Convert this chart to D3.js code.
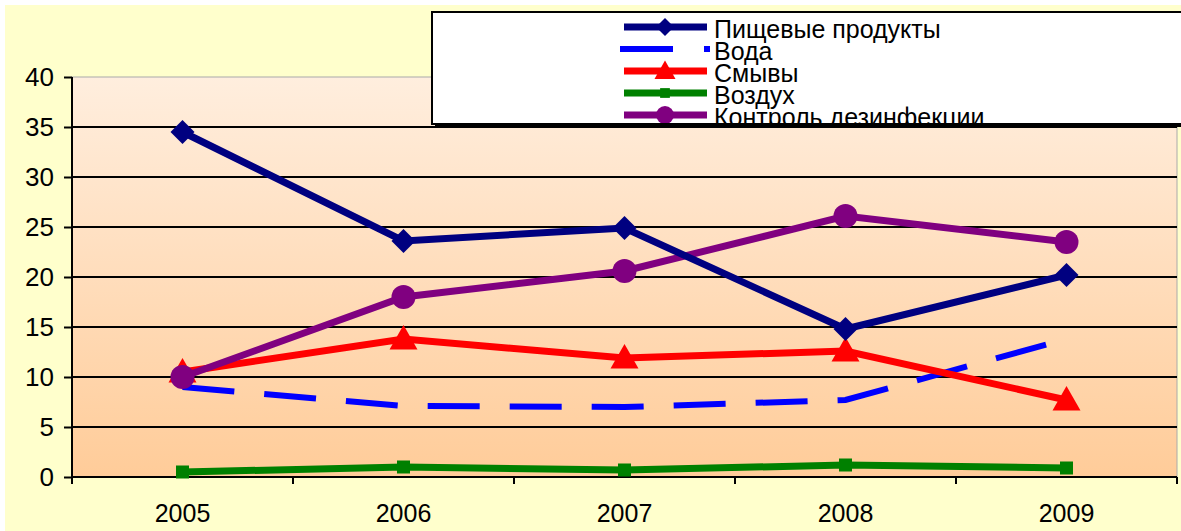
<!DOCTYPE html>
<html>
<head>
<meta charset="utf-8">
<script src="https://cdn.jsdelivr.net/npm/d3@7"></script>
<style>
  body { margin: 0; background: #fff; }
  svg { display: block; font-family: "Liberation Sans", Arial, sans-serif; }
</style>
</head>
<body>
<svg id="chart" width="1181" height="531"></svg>
<script>
const YEARS = ["2005", "2006", "2007", "2008", "2009"];
const Y_TICKS = [0, 5, 10, 15, 20, 25, 30, 35, 40];

const FOOD = [34.5, 23.6, 24.9, 14.8, 20.2];
const WATER = [9.0, 7.1, 7.0, 7.7, 13.8];
const SWABS = [10.5, 13.8, 11.9, 12.6, 7.7];
const AIR = [0.5, 1.0, 0.7, 1.2, 0.9];
const DISINF = [10.0, 18.0, 20.6, 26.1, 23.5];

const SERIES_NAMES = [
  "Пищевые продукты",
  "Вода",
  "Смывы",
  "Воздух",
  "Контроль дезинфекции",
];

const series = [
  { name: SERIES_NAMES[0], values: FOOD, color: "#000080", marker: "diamond" },
  { name: SERIES_NAMES[1], values: WATER, color: "#0000FF", marker: "none", dash: true },
  { name: SERIES_NAMES[2], values: SWABS, color: "#FF0000", marker: "triangle" },
  { name: SERIES_NAMES[3], values: AIR, color: "#008000", marker: "square" },
  { name: SERIES_NAMES[4], values: DISINF, color: "#800080", marker: "circle" },
];

const PLOT = { left: 72, right: 1177, top: 77, bottom: 477 };

const svg = d3.select("#chart");

// chart background
svg
  .append("rect")
  .attr("x", 5)
  .attr("y", 5)
  .attr("width", 1176)
  .attr("height", 526)
  .attr("fill", "#FFFFCC");

const defs = svg.append("defs");
const grad = defs
  .append("linearGradient")
  .attr("id", "plotGrad")
  .attr("x1", 0)
  .attr("y1", 0)
  .attr("x2", 0)
  .attr("y2", 1);
grad.append("stop").attr("offset", "0%").attr("stop-color", "#FFEEDE");
grad.append("stop").attr("offset", "100%").attr("stop-color", "#FFCC99");

const x = d3
  .scaleBand()
  .domain(YEARS)
  .range([PLOT.left, PLOT.right]);

const y = d3.scaleLinear().domain([0, 40]).range([PLOT.bottom, PLOT.top]);

svg
  .append("rect")
  .attr("x", PLOT.left)
  .attr("y", PLOT.top)
  .attr("width", PLOT.right - PLOT.left)
  .attr("height", PLOT.bottom - PLOT.top)
  .attr("fill", "url(#plotGrad)")
  .attr("stroke", "#aaa")
  .attr("stroke-width", 1);

// gridlines
svg
  .append("g")
  .selectAll("line")
  .data(Y_TICKS.filter((t) => t > 0 && t < 40))
  .join("line")
  .attr("x1", PLOT.left)
  .attr("x2", PLOT.right)
  .attr("y1", (d) => y(d))
  .attr("y2", (d) => y(d))
  .attr("stroke", "#000")
  .attr("stroke-width", 2);

// y axis
const yAxis = svg
  .append("g")
  .attr("transform", `translate(${PLOT.left},0)`)
  .call(d3.axisLeft(y).tickValues(Y_TICKS).tickSize(8).tickPadding(10));
yAxis.selectAll("path, line").attr("stroke", "#000").attr("stroke-width", 2);
yAxis.select(".domain").attr("d", `M0,${PLOT.top}V${PLOT.bottom}`);
yAxis
  .selectAll("text")
  .attr("font-size", 26)
  .attr("font-family", "Liberation Sans, Arial, sans-serif")
  .attr("fill", "#000");

// x axis: ticks between categories
const xAxis = svg
  .append("g")
  .attr("transform", `translate(0,${PLOT.bottom})`);
xAxis
  .append("line")
  .attr("x1", PLOT.left)
  .attr("x2", PLOT.right)
  .attr("stroke", "#000")
  .attr("stroke-width", 2);
const boundaries = YEARS.map((d) => x(d)).concat([PLOT.right]);
xAxis
  .selectAll(".xt")
  .data(boundaries)
  .join("line")
  .attr("class", "xt")
  .attr("x1", (d) => d)
  .attr("x2", (d) => d)
  .attr("y1", 0)
  .attr("y2", 7)
  .attr("stroke", "#000")
  .attr("stroke-width", 2);
xAxis
  .selectAll(".xl")
  .data(YEARS)
  .join("text")
  .attr("class", "xl")
  .attr("x", (d) => x(d) + x.bandwidth() / 2)
  .attr("y", 45)
  .attr("text-anchor", "middle")
  .attr("font-size", 25)
  .text((d) => d);

const cx = (i) => x(YEARS[i]) + x.bandwidth() / 2;

function drawMarker(g, type, color, px, py, scale = 1) {
  if (type === "diamond") {
    const r = 12 * scale;
    g.append("path")
      .attr("d", `M${px},${py - r}L${px + r},${py}L${px},${py + r}L${px - r},${py}Z`)
      .attr("fill", color);
  } else if (type === "triangle") {
    const r = 14 * scale;
    g.append("path")
      .attr("d", `M${px},${py - r}L${px + r},${py + r * 0.75}L${px - r},${py + r * 0.75}Z`)
      .attr("fill", color);
  } else if (type === "square") {
    const s = 13 * scale;
    g.append("rect")
      .attr("x", px - s / 2)
      .attr("y", py - s / 2)
      .attr("width", s)
      .attr("height", s)
      .attr("fill", color);
  } else if (type === "circle") {
    g.append("circle")
      .attr("cx", px)
      .attr("cy", py)
      .attr("r", 12 * scale)
      .attr("fill", color);
  }
}

const line = d3
  .line()
  .x((d, i) => cx(i))
  .y((d) => y(d));

const linesG = svg.append("g");
// draw order: water first, then others
const order = [1, 3, 2, 4, 0];
order.forEach((k) => {
  const s = series[k];
  const g = linesG.append("g");
  g.append("path")
    .attr("d", line(s.values))
    .attr("fill", "none")
    .attr("stroke", s.color)
    .attr("stroke-width", s.dash ? 6 : 7)
    .attr("stroke-dasharray", s.dash ? "52 30" : null)
    .attr("stroke-linejoin", "miter");
  s.values.forEach((v, i) => drawMarker(g, s.marker, s.color, cx(i), y(v)));
});

// legend
const LEG = { x: 432, y: 12, w: 760, h: 112 };
const legend = svg.append("g");
legend
  .append("rect")
  .attr("x", LEG.x + 3)
  .attr("y", LEG.y + 3)
  .attr("width", LEG.w)
  .attr("height", LEG.h)
  .attr("fill", "#000");
legend
  .append("rect")
  .attr("x", LEG.x)
  .attr("y", LEG.y)
  .attr("width", LEG.w)
  .attr("height", LEG.h)
  .attr("fill", "#fff")
  .attr("stroke", "#000")
  .attr("stroke-width", 2);

defs
  .append("clipPath")
  .attr("id", "legClip")
  .append("rect")
  .attr("x", LEG.x)
  .attr("y", LEG.y)
  .attr("width", LEG.w)
  .attr("height", LEG.h - 1);

const items = legend.append("g").attr("clip-path", "url(#legClip)");
series.forEach((s, i) => {
  const ly = 27 + i * 22;
  const g = items.append("g");
  if (s.dash) {
    g.append("line")
      .attr("x1", 620)
      .attr("x2", 673)
      .attr("y1", ly)
      .attr("y2", ly)
      .attr("stroke", s.color)
      .attr("stroke-width", 6);
    g.append("line")
      .attr("x1", 704)
      .attr("x2", 710)
      .attr("y1", ly)
      .attr("y2", ly)
      .attr("stroke", s.color)
      .attr("stroke-width", 6);
  } else {
    g.append("line")
      .attr("x1", 624)
      .attr("x2", 707)
      .attr("y1", ly)
      .attr("y2", ly)
      .attr("stroke", s.color)
      .attr("stroke-width", 7);
    drawMarker(g, s.marker, s.color, 665, ly, 0.75);
  }
  g.append("text")
    .attr("x", 714)
    .attr("y", ly + 11)
    .attr("font-size", 25)
    .attr("fill", "#000")
    .text(s.name);
});
</script>
</body>
</html>
